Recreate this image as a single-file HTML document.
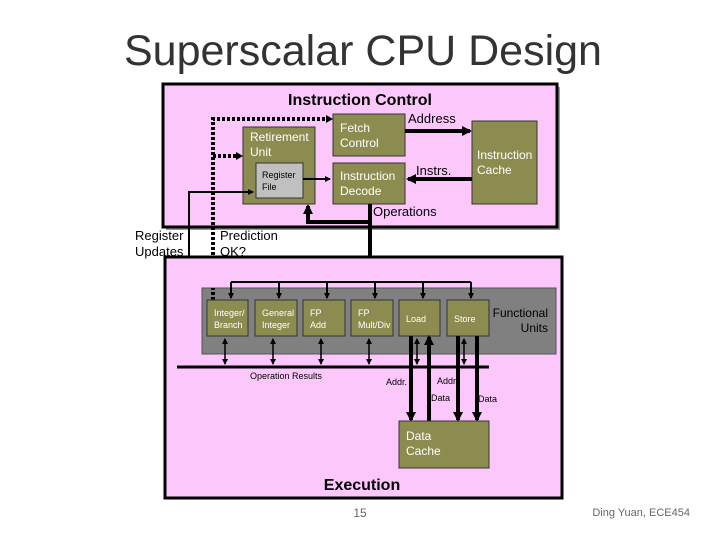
<!DOCTYPE html>
<html><head><style>
body{margin:0;background:#fff;width:720px;height:540px;overflow:hidden;font-family:"Liberation Sans",sans-serif}
</style></head><body>
<svg width="720" height="540" viewBox="0 0 720 540" xmlns="http://www.w3.org/2000/svg" font-family="Liberation Sans, sans-serif">
<defs>
<marker id="b" markerWidth="6" markerHeight="6" refX="5" refY="3" orient="auto" markerUnits="userSpaceOnUse"><path d="M0,0 L6,3 L0,6z" fill="#000"/></marker>
<marker id="bs" markerWidth="6" markerHeight="6" refX="1" refY="3" orient="auto" markerUnits="userSpaceOnUse"><path d="M6,0 L0,3 L6,6z" fill="#000"/></marker>
<marker id="c" markerWidth="10" markerHeight="10" refX="8" refY="5" orient="auto" markerUnits="userSpaceOnUse"><path d="M0,0 L10,5 L0,10z" fill="#000"/></marker>
</defs>
<text x="363" y="65" font-size="43" text-anchor="middle" fill="#333">Superscalar CPU Design</text>
<rect x="166" y="87" width="394" height="143" fill="#999"/>
<rect x="163" y="84" width="394" height="143" fill="#fcc8fc" stroke="#000" stroke-width="3"/>
<text x="360" y="105" font-size="16" font-weight="bold" text-anchor="middle">Instruction Control</text>
<rect x="333" y="114" width="72" height="42" fill="#8c8c50" stroke="#333"/>
<text x="340" y="132" font-size="12" fill="#fff">Fetch</text><text x="340" y="147" font-size="12" fill="#fff">Control</text>
<rect x="333" y="163" width="72" height="41" fill="#8c8c50" stroke="#333"/>
<text x="340" y="180" font-size="12" fill="#fff">Instruction</text><text x="340" y="195" font-size="12" fill="#fff">Decode</text>
<rect x="472" y="121" width="65" height="83" fill="#8c8c50" stroke="#333"/>
<text x="477" y="159" font-size="12" fill="#fff">Instruction</text><text x="477" y="174" font-size="12" fill="#fff">Cache</text>
<rect x="243" y="127" width="72" height="77" fill="#8c8c50" stroke="#333"/>
<text x="250" y="141" font-size="12" fill="#fff">Retirement</text><text x="250" y="156" font-size="12" fill="#fff">Unit</text>
<rect x="256" y="163" width="47" height="35" fill="#c0c0c0" stroke="#333"/>
<text x="262" y="178" font-size="9">Register</text><text x="262" y="190" font-size="9">File</text>
<text x="408" y="123" font-size="13">Address</text>
<text x="416" y="175" font-size="13">Instrs.</text>
<text x="373" y="216" font-size="13">Operations</text>
<line x1="405" y1="131" x2="470" y2="131" stroke="#000" stroke-width="4" marker-end="url(#c)"/>
<line x1="472" y1="179" x2="408" y2="179" stroke="#000" stroke-width="4" marker-end="url(#c)"/>
<line x1="303" y1="179" x2="330" y2="179" stroke="#000" stroke-width="2" marker-end="url(#b)"/>
<path d="M370 204 V278" stroke="#000" stroke-width="4" fill="none" marker-end="url(#c)"/>
<path d="M370 222 H308 V206" stroke="#000" stroke-width="4" fill="none" marker-end="url(#c)"/>
<path d="M189 367 V192 H253" stroke="#000" stroke-width="2" fill="none" marker-end="url(#b)"/>
<path d="M213 300 V119 H328" stroke="#000" stroke-width="4" stroke-dasharray="3,2" fill="none"/>
<path d="M326 115 l7 4 l-7 4z M236 152 l7 4 l-7 4z" fill="#000"/>
<path d="M213 156 H238" stroke="#000" stroke-width="4" stroke-dasharray="3,2"/>
<text x="135" y="240" font-size="13">Register</text><text x="135" y="256" font-size="13">Updates</text>
<text x="220" y="240" font-size="13">Prediction</text><text x="220" y="256" font-size="13">OK?</text>
<rect x="165" y="257" width="397" height="241" fill="#fcc8fc" stroke="#000" stroke-width="3"/>
<rect x="202" y="288" width="354" height="66" fill="#808080" stroke="#555"/>
<path d="M213 300 V288" stroke="#000" stroke-width="4" stroke-dasharray="3,2"/>
<line x1="231" y1="282" x2="471" y2="282" stroke="#000" stroke-width="2"/>
<g stroke="#000" stroke-width="2" marker-end="url(#b)">
<line x1="231" y1="282" x2="231" y2="298"/><line x1="279" y1="282" x2="279" y2="298"/><line x1="327" y1="282" x2="327" y2="298"/><line x1="375" y1="282" x2="375" y2="298"/><line x1="423" y1="282" x2="423" y2="298"/><line x1="471" y1="282" x2="471" y2="298"/>
</g>
<g fill="#8c8c50" stroke="#333">
<rect x="207" y="300" width="41" height="36"/><rect x="255" y="300" width="42" height="36"/><rect x="303" y="300" width="42" height="36"/><rect x="351" y="300" width="42" height="36"/><rect x="399" y="300" width="41" height="36"/><rect x="447" y="300" width="42" height="36"/>
</g>
<g font-size="9" fill="#fff">
<text x="214" y="316">Integer/</text><text x="214" y="328">Branch</text>
<text x="262" y="316">General</text><text x="262" y="328">Integer</text>
<text x="310" y="316">FP</text><text x="310" y="328">Add</text>
<text x="358" y="316">FP</text><text x="358" y="328">Mult/Div</text>
<text x="406" y="322">Load</text><text x="454" y="322">Store</text>
</g>
<text x="548" y="317" font-size="12" text-anchor="end">Functional</text>
<text x="548" y="332" font-size="12" text-anchor="end">Units</text>
<line x1="177" y1="367" x2="489" y2="367" stroke="#000" stroke-width="3"/>
<g stroke="#000" stroke-width="1.5" marker-end="url(#b)" marker-start="url(#bs)">
<line x1="225" y1="339" x2="225" y2="364"/><line x1="273" y1="339" x2="273" y2="364"/><line x1="321" y1="339" x2="321" y2="364"/><line x1="369" y1="339" x2="369" y2="364"/><line x1="417" y1="339" x2="417" y2="364"/><line x1="464" y1="339" x2="464" y2="364"/>
</g>
<text x="250" y="379" font-size="9">Operation Results</text>
<g stroke="#000" stroke-width="4" marker-end="url(#c)">
<line x1="411" y1="336" x2="411" y2="420"/><line x1="429" y1="421" x2="429" y2="337"/><line x1="458" y1="336" x2="458" y2="420"/><line x1="477" y1="336" x2="477" y2="420"/>
</g>
<g font-size="9"><text x="386" y="385">Addr.</text><text x="437" y="384">Addr</text><text x="431" y="401">Data</text><text x="478" y="402">Data</text></g>
<rect x="399" y="421" width="90" height="47" fill="#8c8c50" stroke="#333"/>
<text x="406" y="440" font-size="12" fill="#fff">Data</text><text x="406" y="455" font-size="12" fill="#fff">Cache</text>
<text x="362" y="490" font-size="16" font-weight="bold" text-anchor="middle">Execution</text>
<text x="360" y="517" font-size="12" text-anchor="middle" fill="#666">15</text>
<text x="690" y="516" font-size="11" text-anchor="end" fill="#666">Ding Yuan, ECE454</text>
</svg>
</body></html>
